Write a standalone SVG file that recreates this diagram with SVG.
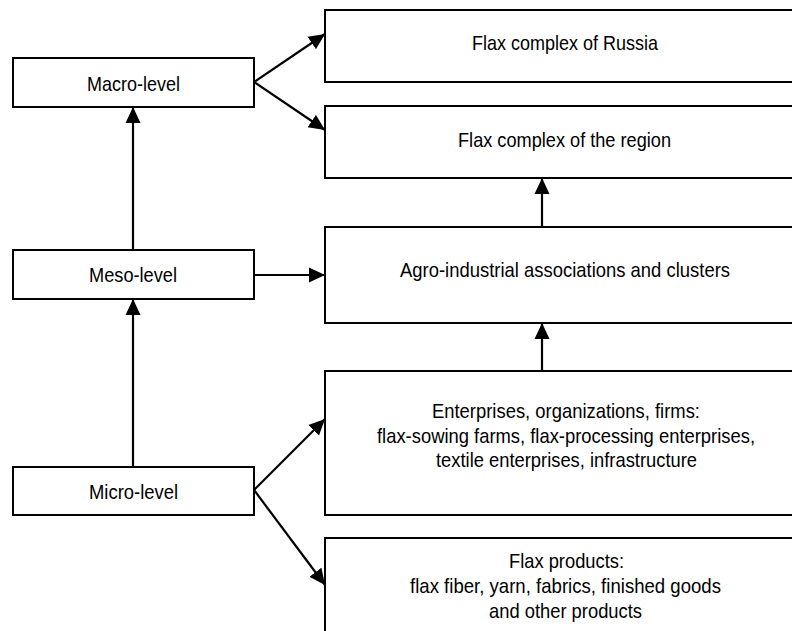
<svg xmlns="http://www.w3.org/2000/svg" width="792" height="631" viewBox="0 0 792 631">
<style>
.box{fill:#fff;stroke:#000;stroke-width:2}
.t{font-family:"Liberation Sans",Arial,sans-serif;font-size:21px;fill:#000}
.c{fill:none;stroke:#000;stroke-width:2.2}
</style>
<defs>
<marker id="ah" viewBox="0 0 16 16" refX="16" refY="8" markerWidth="16" markerHeight="16" markerUnits="userSpaceOnUse" orient="auto">
<path d="M0,0.5 L16,8 L0,15.5 Z" fill="#000"/>
</marker>
</defs>
<rect width="792" height="631" fill="#fff"/>
<g id="macro"><rect class="box" x="13" y="58" width="241" height="49"/><text class="t" x="87" y="90.5" textLength="93" lengthAdjust="spacingAndGlyphs">Macro-level</text></g>
<g id="meso"><rect class="box" x="13" y="250" width="241" height="49"/><text class="t" x="89" y="282" textLength="88" lengthAdjust="spacingAndGlyphs">Meso-level</text></g>
<g id="micro"><rect class="box" x="13" y="467" width="241" height="48"/><text class="t" x="89" y="499" textLength="89" lengthAdjust="spacingAndGlyphs">Micro-level</text></g>
<g id="russia"><path class="box" d="M792,10 H325 V82 H792"/><text class="t" x="472" y="50" textLength="186" lengthAdjust="spacingAndGlyphs">Flax complex of Russia</text></g>
<g id="region"><path class="box" d="M792,106 H325 V178 H792"/><text class="t" x="458" y="147" textLength="213" lengthAdjust="spacingAndGlyphs">Flax complex of the region</text></g>
<g id="agro"><path class="box" d="M792,227 H325 V323 H792"/><text class="t" x="400" y="277" textLength="330" lengthAdjust="spacingAndGlyphs">Agro-industrial associations and clusters</text></g>
<g id="enterprises"><path class="box" d="M792,371 H325 V515 H792"/>
<text class="t" x="432" y="418" textLength="268" lengthAdjust="spacingAndGlyphs">Enterprises, organizations, firms:</text>
<text class="t" transform="matrix(0.875,0,0,1,377,443)" x="0" y="0" textLength="432" lengthAdjust="spacingAndGlyphs">flax-sowing farms, flax-processing enterprises,</text>
<text class="t" x="436" y="467" textLength="261" lengthAdjust="spacingAndGlyphs">textile enterprises, infrastructure</text></g>
<g id="products"><path class="box" d="M792,538 H325 V632"/>
<text class="t" x="509" y="568" textLength="115" lengthAdjust="spacingAndGlyphs">Flax products:</text>
<text class="t" x="410" y="593" textLength="311" lengthAdjust="spacingAndGlyphs">flax fiber, yarn, fabrics, finished goods</text>
<text class="t" x="489" y="618" textLength="153" lengthAdjust="spacingAndGlyphs">and other products</text></g>
<g id="connectors">
<line class="c" x1="133" y1="250" x2="133" y2="107" marker-end="url(#ah)"/>
<line class="c" x1="133" y1="467" x2="133" y2="299" marker-end="url(#ah)"/>
<line class="c" x1="254" y1="275" x2="325" y2="275" marker-end="url(#ah)"/>
<line class="c" x1="542" y1="227" x2="542" y2="178" marker-end="url(#ah)"/>
<line class="c" x1="542" y1="371" x2="542" y2="323" marker-end="url(#ah)"/>
<line class="c" x1="254" y1="82" x2="325" y2="34" marker-end="url(#ah)"/>
<line class="c" x1="254" y1="82" x2="325" y2="130" marker-end="url(#ah)"/>
<line class="c" x1="254" y1="490" x2="325" y2="419" marker-end="url(#ah)"/>
<line class="c" x1="254" y1="490" x2="325" y2="585" marker-end="url(#ah)"/>
</g>
</svg>
